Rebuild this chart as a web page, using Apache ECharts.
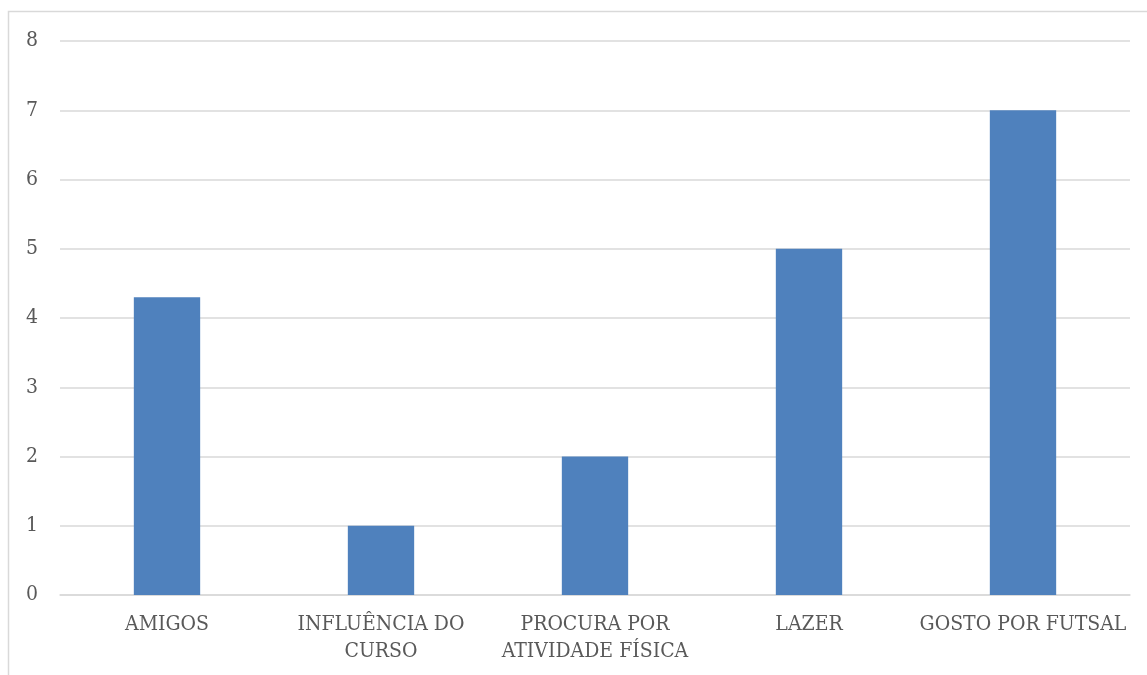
<!DOCTYPE html>
<html>
<head>
<meta charset="utf-8">
<script src="https://cdn.jsdelivr.net/npm/echarts@6/dist/echarts.min.js"></script>
<style>
  html, body { margin: 0; padding: 0; background: #ffffff; }
  #chart { width: 1147px; height: 675px; }
</style>
</head>
<body>
<div id="chart"></div>
<script>
// Motivos para a prática de futsal
const categories = ['AMIGOS', 'INFLUÊNCIA DO\nCURSO', 'PROCURA POR\nATIVIDADE FÍSICA', 'LAZER', 'GOSTO POR FUTSAL'];
const values = [4.3, 1, 2, 5, 7];
const yTicks = [0, 1, 2, 3, 4, 5, 6, 7, 8];

const fontFamily = '"DejaVu Serif Condensed", "Liberation Serif", serif';
const chart = echarts.init(document.getElementById('chart'), null, { renderer: 'canvas' });

chart.setOption({
  animation: false,
  backgroundColor: '#ffffff',
  graphic: [{
    type: 'rect',
    shape: { x: 8.5, y: 11.5, width: 1300, height: 800 },
    style: { fill: 'none', stroke: '#d9d9d9', lineWidth: 1.5 },
    silent: true,
    z: -1
  }],
  grid: { left: 60, right: 17, top: 41, bottom: 80, containLabel: false },
  xAxis: {
    type: 'category',
    data: categories,
    axisLine: { show: true, lineStyle: { color: '#d9d9d9', width: 1.5 } },
    axisTick: { show: false },
    axisLabel: {
      color: '#595959',
      fontFamily: fontFamily,
      fontSize: 21,
      lineHeight: 27,
      margin: 16,
      interval: 0
    }
  },
  yAxis: {
    type: 'value',
    min: yTicks[0],
    max: yTicks[yTicks.length - 1],
    interval: 1,
    axisLine: { show: false },
    axisTick: { show: false },
    splitLine: { lineStyle: { color: '#d9d9d9', width: 1.5 } },
    axisLabel: {
      color: '#595959',
      fontFamily: fontFamily,
      fontSize: 21,
      margin: 22,
      align: 'right'
    }
  },
  series: [{
    type: 'bar',
    data: values,
    barWidth: '31%',
    itemStyle: { color: '#4f81bd' }
  }]
});
</script>
</body>
</html>
